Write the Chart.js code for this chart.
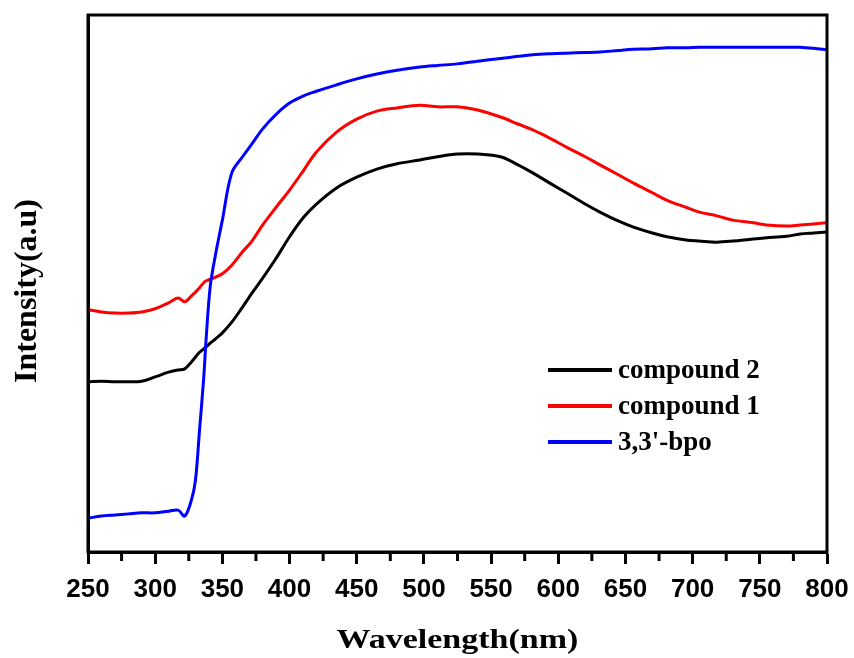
<!DOCTYPE html>
<html>
<head>
<meta charset="utf-8">
<script src="https://cdn.jsdelivr.net/npm/chart.js@4.4.0/dist/chart.umd.min.js"></script>
<style>
html, body { margin: 0; padding: 0; background: #fff; }
</style>
</head>
<body>
<canvas id="spectra" width="854" height="658"></canvas>
<script>
// wavelength grid (nm) shared by the three spectra
var wavelength = [250, 260, 270, 280, 290, 300, 310, 317, 322, 327, 330, 333, 336, 338, 341, 345, 350,
    357, 365, 372, 380, 390, 400, 410, 420, 435, 450, 465, 480, 497, 510, 525, 540, 557, 570, 581, 595,
    606, 620, 631, 645, 656, 670, 681, 695, 705, 718, 730, 745, 755, 770, 780, 790, 800];

var bpo = [6.3, 6.7, 6.9, 7.1, 7.3, 7.3, 7.6, 7.8, 6.7, 9.7, 13.4, 22.7, 32.0, 40.0, 49.5, 55.5, 61.8,
    70.6, 73.6, 76.0, 78.8, 81.5, 83.6, 84.9, 85.8, 87.0, 88.1, 89.0, 89.7, 90.3, 90.6, 90.9, 91.4, 91.9, 92.3, 92.6, 92.8,
    92.9, 93.0, 93.1, 93.4, 93.6, 93.7, 93.9, 93.9, 94.0, 94.0, 94.0, 94.0, 94.0, 94.0, 94.0, 93.8, 93.5];

var compound1 = [45.1, 44.7, 44.5, 44.5, 44.7, 45.3, 46.4, 47.3, 46.6, 47.7, 48.4, 49.2, 50.1, 50.5, 50.8, 51.2, 51.8,
    53.4, 55.9, 57.9, 60.9, 64.2, 67.4, 70.9, 74.5, 78.2, 80.6, 82.1, 82.7, 83.2, 82.9, 82.9, 82.3, 81.0, 79.7, 78.6, 76.9,
    75.4, 73.6, 72.1, 70.2, 68.7, 66.9, 65.5, 64.2, 63.3, 62.6, 61.8, 61.3, 60.9, 60.7, 60.9, 61.1, 61.3];

var compound2 = [31.7, 31.8, 31.7, 31.7, 31.8, 32.6, 33.5, 33.9, 34.1, 35.4, 36.3, 37.2, 37.8, 38.2, 38.9, 39.7, 40.8,
    42.8, 45.6, 48.2, 51.0, 54.7, 58.7, 62.2, 64.8, 67.8, 69.8, 71.3, 72.3, 73.0, 73.6, 74.1, 74.1, 73.6, 72.1, 70.6, 68.5,
    66.9, 64.8, 63.3, 61.6, 60.5, 59.4, 58.7, 58.1, 57.9, 57.7, 57.9, 58.3, 58.5, 58.8, 59.2, 59.4, 59.6];

var xTickValues = [250, 300, 350, 400, 450, 500, 550, 600, 650, 700, 750, 800];
var xMinorValues = [275, 325, 375, 425, 475, 525, 575, 625, 675, 725, 775];

var xTitle = 'Wavelength(nm)';
var yTitle = 'Intensity(a.u)';

function pts(ys) {
    return ys.map(function (y, i) { return { x: wavelength[i], y: y }; });
}

var serif = "'Liberation Serif', 'Times New Roman', serif";
var sans = "'Liberation Sans', Arial, sans-serif";

// frame, minor ticks, axis titles and the legend inside the plot
var extras = {
    id: 'extras',
    afterDraw: function (chart) {
        var c = chart.ctx, a = chart.chartArea, xs = chart.scales.x;
        c.save();
        c.strokeStyle = '#000';
        c.lineWidth = 3;
        c.strokeRect(a.left, a.top, a.right - a.left, a.bottom - a.top);
        xMinorValues.forEach(function (v) {
            var px = xs.getPixelForValue(v);
            c.beginPath();
            c.moveTo(px, a.bottom);
            c.lineTo(px, a.bottom + 9);
            c.stroke();
        });

        // axis titles (the x one is a bit squat in the original)
        c.fillStyle = '#000';
        c.textAlign = 'center';
        c.textBaseline = 'middle';
        c.save();
        c.translate((a.left + a.right) / 2, 641);
        c.scale(1, 0.82);
        c.font = 'bold 34px ' + serif;
        c.fillText(xTitle, 0, 0);
        c.restore();
        c.save();
        c.translate(28, 291);
        c.rotate(-Math.PI / 2);
        c.font = 'bold 32px ' + serif;
        c.fillText(yTitle, 0, 0);
        c.restore();

        // legend: black, red, blue from top
        var ds = chart.data.datasets.slice().reverse();
        c.font = 'bold 27px ' + serif;
        c.textAlign = 'left';
        ds.forEach(function (d, i) {
            var y = 370 + i * 36;
            c.strokeStyle = d.borderColor;
            c.lineWidth = 4;
            c.beginPath();
            c.moveTo(548, y);
            c.lineTo(612, y);
            c.stroke();
            c.fillText(d.label, 618, y + 1);
        });
        c.restore();
    }
};

var chart = new Chart(document.getElementById('spectra'), {
    type: 'line',
    data: {
        datasets: [
            { label: "3,3'-bpo", data: pts(bpo), borderColor: '#0000ff' },
            { label: 'compound 1', data: pts(compound1), borderColor: '#ff0000' },
            { label: 'compound 2', data: pts(compound2), borderColor: '#000000' }
        ]
    },
    options: {
        responsive: false,
        animation: false,
        devicePixelRatio: 1,
        layout: { padding: { top: 15, right: 27, left: 0, bottom: 0 } },
        elements: {
            point: { radius: 0 },
            line: { borderWidth: 3, tension: 0.35, fill: false }
        },
        plugins: {
            legend: { display: false },
            tooltip: { enabled: false }
        },
        scales: {
            x: {
                type: 'linear',
                min: 250,
                max: 800,
                afterBuildTicks: function (s) {
                    s.ticks = xTickValues.map(function (v) { return { value: v }; });
                },
                afterFit: function (s) {
                    s.height = 106;
                    s.paddingLeft = 0;
                    s.paddingRight = 0;
                },
                grid: { drawOnChartArea: false, drawTicks: true, tickLength: 12, tickWidth: 3, tickColor: '#000' },
                border: { display: true, color: '#000', width: 3 },
                ticks: {
                    color: '#000',
                    padding: 10,
                    maxRotation: 0,
                    font: { family: sans, size: 26, weight: 'bold' }
                }
            },
            y: {
                min: 0,
                max: 100,
                afterFit: function (s) { s.width = 88; },
                grid: { display: false, drawTicks: false },
                border: { display: true, color: '#000', width: 3 },
                ticks: { display: false }
            }
        }
    },
    plugins: [extras]
});
</script>
</body>
</html>
